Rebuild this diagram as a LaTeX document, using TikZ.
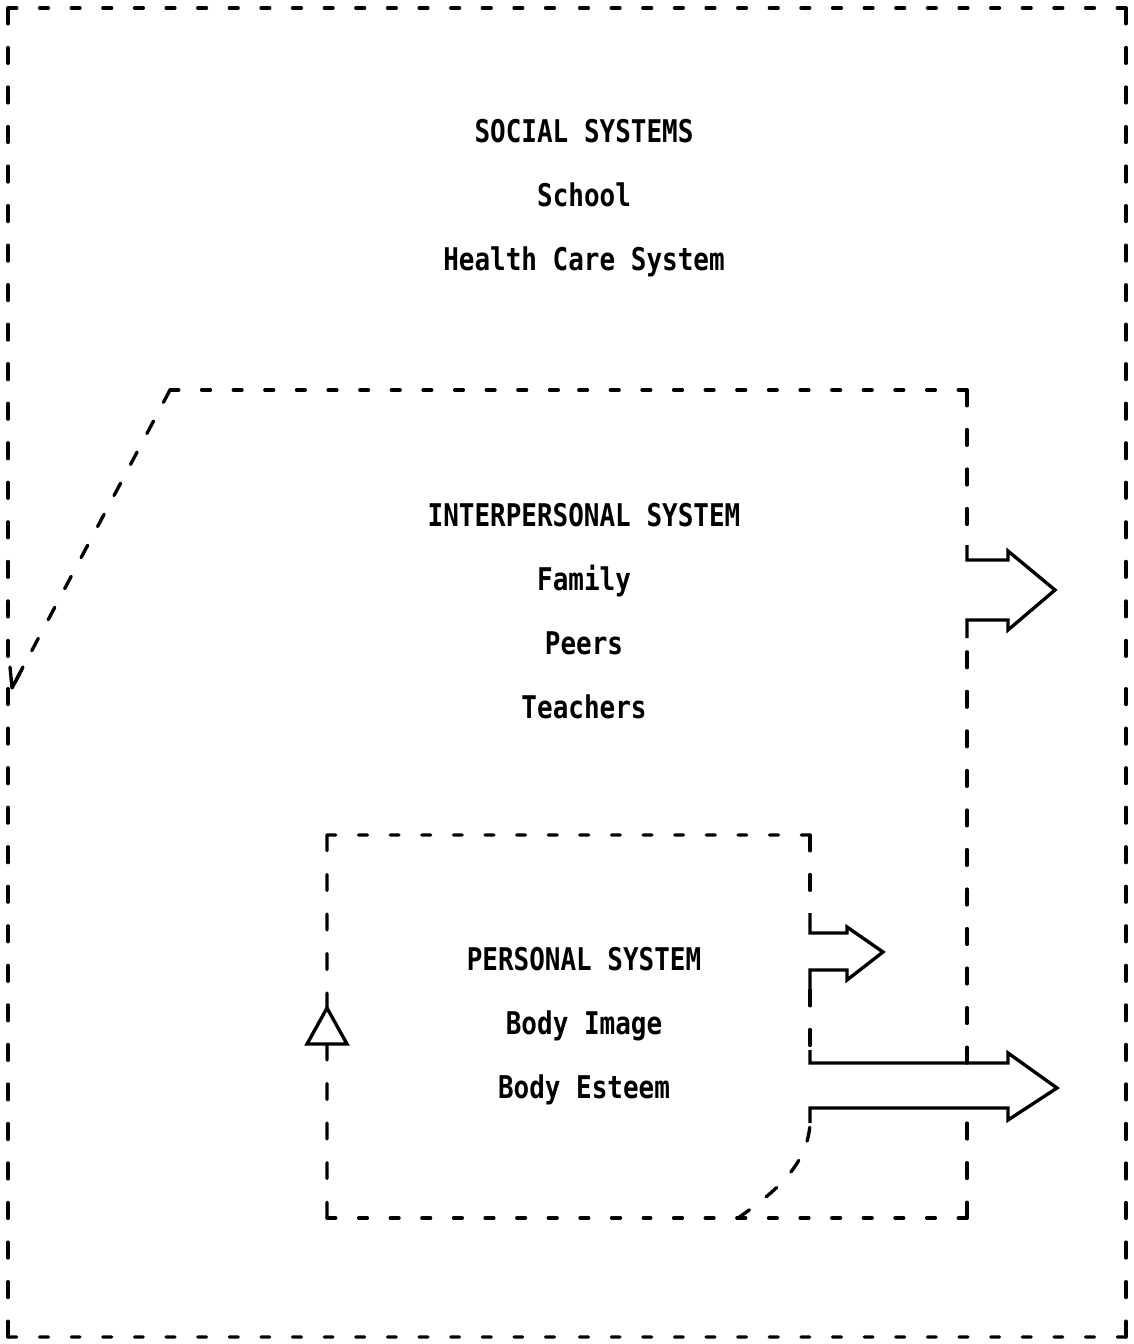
\documentclass[tikz,border=0pt]{standalone}
\usepackage{fontspec}
\newfontfamily\sysfont{DejaVu Sans Mono}[FakeStretch=0.83]
\usetikzlibrary{positioning,calc}

% dashed edge that starts with a dash at both of its corners
\newcommand\sysedge[3]{%
  \draw[#1] (#2) -- ($(#2)!0.5!(#3)$);
  \draw[#1] (#3) -- ($(#3)!0.5!(#2)$);}

\begin{document}
\begin{tikzpicture}[
    x=0.02cm, y=-0.02cm,
    line width=1.9pt, line cap=round,
    hdash/.style={dash pattern=on 5pt off 13pt},
    vdash/.style={dash pattern=on 9pt off 13.5pt},
    sdash/.style={dash pattern=on 8pt off 12pt},
    flowarrow/.style={draw, solid, line join=miter, line cap=butt},
    txt/.style={font={\sysfont\bfseries\fontsize{17.8}{20}\selectfont},
                inner sep=0pt, text height=13pt, text depth=4pt},
    node distance=1.28cm and 0cm, on grid
  ]
  \useasboundingbox (0,0) rectangle (1133,1344);

  % corners of the three systems
  \coordinate (soc-tl) at (8,8);     \coordinate (soc-tr) at (1126,8);
  \coordinate (soc-bl) at (8,1337);  \coordinate (soc-br) at (1126,1337);
  \coordinate (int-tl) at (170,390); \coordinate (int-tr) at (967,390);
  \coordinate (int-br) at (967,1218);
  \coordinate (int-tip) at (12,688);
  \coordinate (per-tl) at (327,835); \coordinate (per-tr) at (810,835);
  \coordinate (per-bl) at (327,1218);
  \coordinate (per-cut) at (738,1218);

  % social systems frame
  \sysedge{hdash}{soc-tl}{soc-tr}
  \sysedge{hdash}{soc-bl}{soc-br}
  \sysedge{vdash}{soc-tl}{soc-bl}
  \sysedge{vdash}{soc-tr}{soc-br}

  % interpersonal system frame
  \draw[sdash] (int-tl) -- (int-tip);
  \draw[solid, line join=round] ([shift={(-2,-21)}]int-tip) -- (int-tip) -- ([shift={(11,-21)}]int-tip);
  \sysedge{hdash}{int-tl}{int-tr}
  \draw[vdash] (int-tr) -- (967,545);
  \draw[vdash] (967,1063) -- (967,638);
  \draw[vdash] (int-br) -- (967,1123);
  \sysedge{hdash}{int-br}{per-bl}

  % personal system frame
  \sysedge{vdash}{per-bl}{per-tl}
  \sysedge{hdash}{per-tl}{per-tr}
  \draw[vdash] (per-tr) -- (810,913);
  \draw[vdash] (810,990) -- (810,1050);
  \draw[sdash] (per-cut) .. controls (775,1192) and (808,1165) .. (810,1123);
  \draw[flowarrow, fill=white] (327,1008) -- (307,1044) -- (347,1044) -- cycle;

  % outward flows
  \draw[flowarrow] (967,545) -- (967,560) -- (1008,560) -- (1008,551)
    -- (1055,590) -- (1008,630) -- (1008,620) -- (967,620) -- (967,638);
  \draw[flowarrow] (810,913) -- (810,933) -- (847,933) -- (847,927)
    -- (883,952) -- (847,980) -- (847,970) -- (810,970) -- (810,990);
  \draw[flowarrow] (810,1050) -- (810,1063) -- (1008,1063) -- (1008,1053)
    -- (1057,1088) -- (1008,1120) -- (1008,1108) -- (810,1108) -- (810,1123);

  % labels
  \node[txt] (social) at (584,135) {SOCIAL SYSTEMS};
  \node[txt, below=of social] (school) {School};
  \node[txt, below=of school] (health) {Health Care System};

  \node[txt] (inter) at (584,519) {INTERPERSONAL SYSTEM};
  \node[txt, below=of inter] (family) {Family};
  \node[txt, below=of family] (peers) {Peers};
  \node[txt, below=of peers] (teachers) {Teachers};

  \node[txt] (personal) at (584,963) {PERSONAL SYSTEM};
  \node[txt, below=of personal] (image) {Body Image};
  \node[txt, below=of image] (esteem) {Body Esteem};
\end{tikzpicture}
\end{document}
